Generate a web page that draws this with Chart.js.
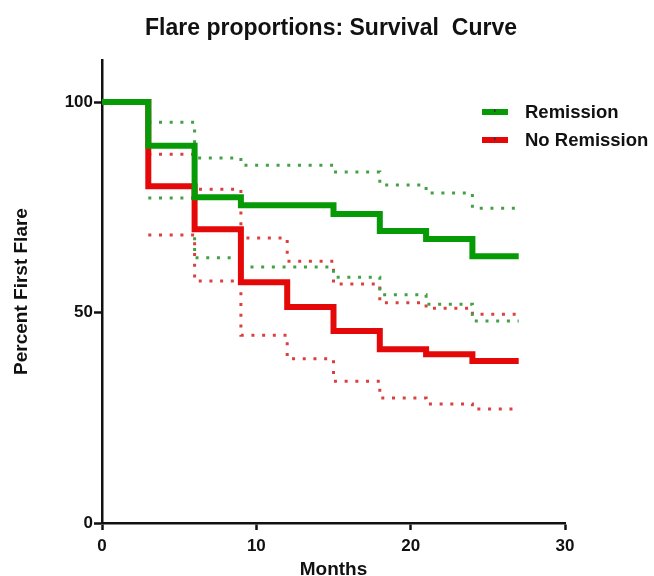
<!DOCTYPE html>
<html>
<head>
<meta charset="utf-8">
<script src="https://cdn.jsdelivr.net/npm/chart.js@4"></script>
<style>
  body { margin: 0; background: #fff; }
  canvas { display: block; }
</style>
</head>
<body>
<canvas id="survivalChart" width="654" height="576"></canvas>
<script>
// step times (months); value at each time holds until the next one
const months = [0, 3, 6, 9, 12, 15, 18, 21, 24, 27];
const remission = [100, 89.6, 77.4, 75.5, 75.5, 73.4, 69.4, 67.5, 63.4, 63.4];
const noRemission = [100, 80, 69.8, 57.2, 51.3, 45.6, 41.3, 40.1, 38.5, 38.5];

// confidence bands start after the first event
const ciMonths = [3, 6, 9, 12, 15, 18, 21, 24, 27];
const remissionUpper = [95.2, 86.7, 85, 85, 83.4, 80.3, 78.4, 74.8, 74.8];
const remissionLower = [77.2, 63, 60.8, 60.8, 58.4, 54.2, 52.0, 48, 48];
const noRemissionUpper = [87.6, 79.3, 67.7, 62.2, 56.8, 52.3, 51, 49.6, 49.6];
const noRemissionLower = [68.4, 57.5, 44.6, 39, 33.7, 29.7, 28.3, 27.1, 27.1];

const yTicks = [0, 50, 100];
const xTicks = [0, 10, 20, 30];

const GREEN = '#079a07';
const RED = '#e50808';
const GREEN_DOT = '#44a044';
const RED_DOT = '#d9403f';

function pts(xs, ys) {
  return xs.map((x, i) => ({ x: x, y: ys[i] }));
}

function solid(label, xs, ys, color) {
  return {
    label: label,
    data: pts(xs, ys),
    borderColor: color,
    backgroundColor: color,
    borderWidth: 6,
    stepped: true,
    pointRadius: 0,
    fill: false
  };
}

function dotted(xs, ys, color) {
  return {
    label: '',
    data: pts(xs, ys),
    borderColor: color,
    borderWidth: 3,
    borderDash: [3, 7.7],
    stepped: true,
    pointRadius: 0,
    fill: false
  };
}

const legendItems = [
  { text: 'Remission', color: GREEN },
  { text: 'No Remission', color: RED }
];

// legend sits inside the plot, right of the axis end
const sideLegend = {
  id: 'sideLegend',
  afterDraw(chart) {
    const ctx = chart.ctx;
    ctx.save();
    ctx.font = 'bold 18.5px "Liberation Sans", Arial, sans-serif';
    ctx.textBaseline = 'middle';
    legendItems.forEach((item, i) => {
      const y = 112 + i * 28;
      ctx.strokeStyle = item.color;
      ctx.lineWidth = 6;
      ctx.beginPath();
      ctx.moveTo(482, y);
      ctx.lineTo(508, y);
      ctx.stroke();
      ctx.fillStyle = '#333';
      ctx.fillRect(494, y - 3, 1.5, 3);
      ctx.fillStyle = '#111';
      ctx.fillText(item.text, 525, y + 1);
    });
    ctx.restore();
  }
};

const font = { family: '"Liberation Sans", Arial, sans-serif', weight: 'bold' };

new Chart(document.getElementById('survivalChart').getContext('2d'), {
  type: 'line',
  data: {
    datasets: [
      solid('Remission', months, remission, GREEN),
      solid('No Remission', months, noRemission, RED),
      dotted(ciMonths, remissionUpper, GREEN_DOT),
      dotted(ciMonths, remissionLower, GREEN_DOT),
      dotted(ciMonths, noRemissionUpper, RED_DOT),
      dotted(ciMonths, noRemissionLower, RED_DOT)
    ]
  },
  options: {
    responsive: false,
    animation: false,
    layout: { padding: { left: 8, top: 0, right: 0, bottom: 0 } },
    scales: {
      x: {
        type: 'linear',
        min: 0,
        max: 30,
        afterBuildTicks: s => { s.ticks = xTicks.map(v => ({ value: v })); },
        afterFit: s => { s.height = 53; s.paddingLeft = 0; s.paddingRight = 0; },
        grid: { display: true, drawOnChartArea: false, drawTicks: true, tickLength: 7, tickWidth: 2.5, tickColor: '#111' },
        border: { display: true, width: 2.5, color: '#111' },
        ticks: { color: '#111', font: Object.assign({ size: 17 }, font), padding: 6, maxRotation: 0 },
        title: { display: true, text: 'Months', color: '#111', font: Object.assign({ size: 19 }, font), padding: { top: 0, bottom: -5 } }
      },
      y: {
        type: 'linear',
        min: 0,
        max: 110,
        afterBuildTicks: s => { s.ticks = yTicks.map(v => ({ value: v })); },
        afterFit: s => { s.width = 94; s.paddingTop = 0; s.paddingBottom = 0; },
        grid: { display: true, drawOnChartArea: false, drawTicks: true, tickLength: 8, tickWidth: 2.5, tickColor: '#111' },
        border: { display: true, width: 2.5, color: '#111' },
        ticks: { color: '#111', font: Object.assign({ size: 17 }, font), padding: 1 },
        title: { display: true, text: 'Percent First Flare', color: '#111', font: Object.assign({ size: 19 }, font), padding: { top: 2, bottom: 0 } }
      },
      spacer: {
        type: 'linear',
        position: 'right',
        display: true,
        grid: { display: false },
        border: { display: false },
        ticks: { display: false },
        afterFit: s => { s.width = 89; s.paddingTop = 0; s.paddingBottom = 0; }
      }
    },
    plugins: {
      legend: { display: false },
      tooltip: { enabled: false },
      title: {
        display: true,
        text: 'Flare proportions: Survival  Curve',
        color: '#111',
        font: Object.assign({ size: 23 }, font),
        padding: { top: 15, bottom: 17.4 }
      }
    }
  },
  plugins: [sideLegend]
});
</script>
</body>
</html>
